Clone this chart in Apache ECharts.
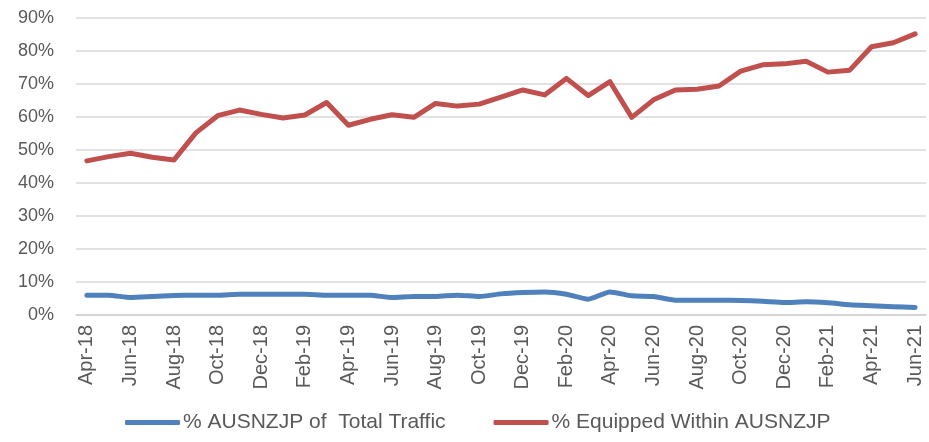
<!DOCTYPE html>
<html>
<head>
<meta charset="utf-8">
<script src="https://cdn.jsdelivr.net/npm/echarts@6/dist/echarts.min.js"></script>
<style>
  html, body { margin: 0; padding: 0; background: #fff; }
  #chart-container { width: 929px; height: 442px; }
</style>
</head>
<body>
<div id="chart-container"></div>
<script>
    'use strict';

    // months Apr-18 .. Jun-21
    var months = [
        'Apr-18', 'May-18', 'Jun-18', 'Jul-18', 'Aug-18', 'Sep-18', 'Oct-18', 'Nov-18', 'Dec-18',
        'Jan-19', 'Feb-19', 'Mar-19', 'Apr-19', 'May-19', 'Jun-19', 'Jul-19', 'Aug-19', 'Sep-19',
        'Oct-19', 'Nov-19', 'Dec-19', 'Jan-20', 'Feb-20', 'Mar-20', 'Apr-20', 'May-20', 'Jun-20',
        'Jul-20', 'Aug-20', 'Sep-20', 'Oct-20', 'Nov-20', 'Dec-20', 'Jan-21', 'Feb-21', 'Mar-21',
        'Apr-21', 'May-21', 'Jun-21'
    ];

    // % AUSNZJP of total traffic
    var shareOfTraffic = [
        6.0, 6.0, 5.3, 5.6, 5.9, 6.0, 6.0, 6.3, 6.3,
        6.3, 6.3, 6.0, 6.0, 6.0, 5.3, 5.6, 5.6, 6.0,
        5.6, 6.4, 6.8, 7.0, 6.3, 4.8, 7.0, 5.8, 5.6,
        4.5, 4.5, 4.5, 4.4, 4.2, 3.8, 4.0, 3.7, 3.1,
        2.8, 2.5, 2.3
    ];

    // % equipped within AUSNZJP
    var equippedShare = [
        46.7, 48.0, 49.0, 47.8, 47.0, 55.2, 60.4, 62.1, 60.8,
        59.7, 60.6, 64.4, 57.5, 59.3, 60.7, 59.9, 64.1, 63.3,
        63.9, 66.0, 68.2, 66.7, 71.7, 66.5, 70.7, 59.9, 65.2,
        68.2, 68.4, 69.4, 73.9, 75.8, 76.1, 76.9, 73.6, 74.2,
        81.3, 82.5, 85.2
    ];

    var seriesNames = ['% AUSNZJP of  Total Traffic', '% Equipped Within AUSNZJP'];

    var chart = echarts.init(document.getElementById('chart-container'));

    chart.setOption({
        animation: false,
        grid: { left: 76, right: 3, top: 18, bottom: 127 },
        legend: {
            left: 120,
            top: 407,
            icon: 'roundRect',
            itemWidth: 55,
            itemHeight: 5,
            itemGap: 48,
            textStyle: { fontFamily: 'Liberation Sans', fontSize: 21, color: '#595959', padding: [0, 0, 0, -2] },
            data: seriesNames
        },
        xAxis: {
            type: 'category',
            data: months,
            boundaryGap: true,
            axisLine: { lineStyle: { color: '#d0d0d0', width: 1.5 } },
            axisTick: { interval: 1, length: 7, lineStyle: { color: '#d0d0d0', width: 1.5 } },
            axisLabel: {
                interval: 1,
                rotate: 90,
                margin: 10,
                color: '#595959',
                fontFamily: 'Liberation Sans',
                fontSize: 20
            }
        },
        yAxis: {
            type: 'value',
            min: 0,
            max: 90,
            interval: 10,
            axisLine: { show: false },
            axisTick: { show: false },
            splitLine: { lineStyle: { color: '#d9d9d9', width: 1.5 } },
            axisLabel: {
                formatter: '{value}%',
                margin: 22,
                color: '#595959',
                fontFamily: 'Liberation Sans',
                fontSize: 18
            }
        },
        series: [
            {
                name: seriesNames[0],
                type: 'line',
                data: shareOfTraffic,
                symbol: 'none',
                smooth: 0.2,
                lineStyle: { color: '#4f81bd', width: 5, cap: 'round', join: 'round' },
                itemStyle: { color: '#4f81bd' }
            },
            {
                name: seriesNames[1],
                type: 'line',
                data: equippedShare,
                symbol: 'none',
                lineStyle: { color: '#c0504d', width: 5, cap: 'round', join: 'round' },
                itemStyle: { color: '#c0504d' }
            }
        ]
    });
</script>
</body>
</html>
